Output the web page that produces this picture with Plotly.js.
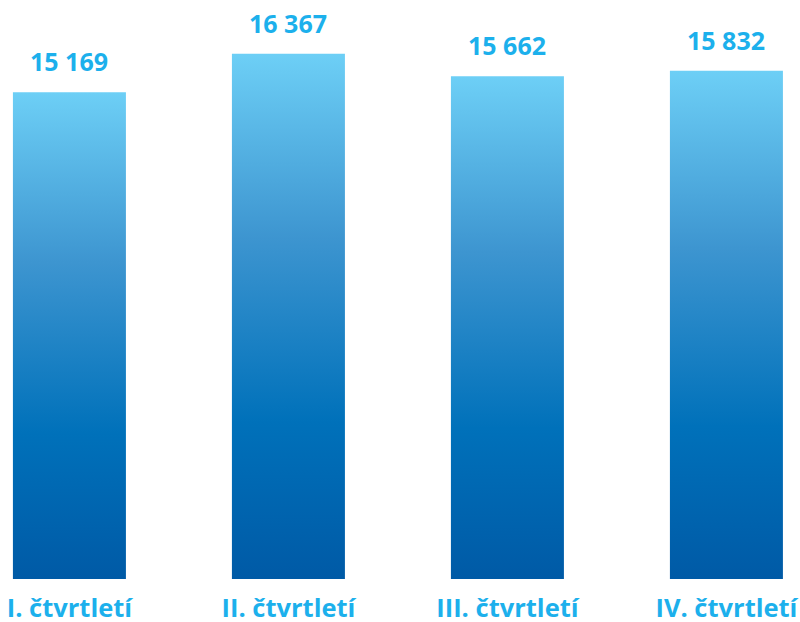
<!DOCTYPE html>
<html><head><meta charset="utf-8">
<script src="https://cdn.plot.ly/plotly-3.0.1.min.js"></script>
<style>html,body{margin:0;padding:0;background:#fff;}#chart{width:800px;height:622px;}</style>
</head><body><div id="chart"></div>
<script>
const categories = ["I. čtvrtletí", "II. čtvrtletí", "III. čtvrtletí", "IV. čtvrtletí"];
const values = [15169, 16367, 15662, 15832];

const labelColor = "#1cb0ec";
function fmt(v){ return String(v).replace(/\B(?=(\d{3})+(?!\d))/g, " "); }

const trace = {
  type: "bar",
  x: categories,
  y: values,
  marker: {color: "#2a88c8", line: {width: 0}},
  hoverinfo: "none"
};

const annotations = categories.map((c, i) => ({
  x: c, y: values[i], xref: "x", yref: "y",
  text: fmt(values[i]), showarrow: false,
  yanchor: "bottom", yshift: 12,
  font: {family: "Open Sans", size: 25, color: labelColor, weight: 700}
}));

const layout = {
  width: 800, height: 622,
  margin: {l: 0, r: 0, t: 0, b: 43},
  paper_bgcolor: "#ffffff", plot_bgcolor: "#ffffff",
  bargap: 0.484,
  showlegend: false,
  xaxis: {
    range: [-0.317, 3.336],
    showgrid: false, zeroline: false, showline: false, ticks: "",
    tickfont: {family: "Open Sans", size: 25.5, color: labelColor, weight: 700},
    ticklabelstandoff: 11
  },
  yaxis: {range: [0, 18040], visible: false, showgrid: false, zeroline: false},
  annotations: annotations
};

Plotly.newPlot("chart", [trace], layout, {staticPlot: true, displayModeBar: false}).then(gd => {
  const svg = gd.querySelector("svg.main-svg");
  const ns = "http://www.w3.org/2000/svg";
  let defs = svg.querySelector("defs");
  if (!defs) { defs = document.createElementNS(ns, "defs"); svg.insertBefore(defs, svg.firstChild); }
  const g = document.createElementNS(ns, "linearGradient");
  g.setAttribute("id", "barGrad");
  g.setAttribute("x1", "0"); g.setAttribute("y1", "0");
  g.setAttribute("x2", "0"); g.setAttribute("y2", "1");
  [["0", "#6dcff6"], ["0.35", "#3d95d0"], ["0.7", "#0071ba"], ["1", "#005aa6"]].forEach(([o, c]) => {
    const s = document.createElementNS(ns, "stop");
    s.setAttribute("offset", o); s.setAttribute("stop-color", c);
    g.appendChild(s);
  });
  defs.appendChild(g);
  gd.querySelectorAll(".barlayer .point path").forEach(p => { p.style.fill = "url(#barGrad)"; p.style.fillOpacity = 1; });
});
</script>
</body></html>
